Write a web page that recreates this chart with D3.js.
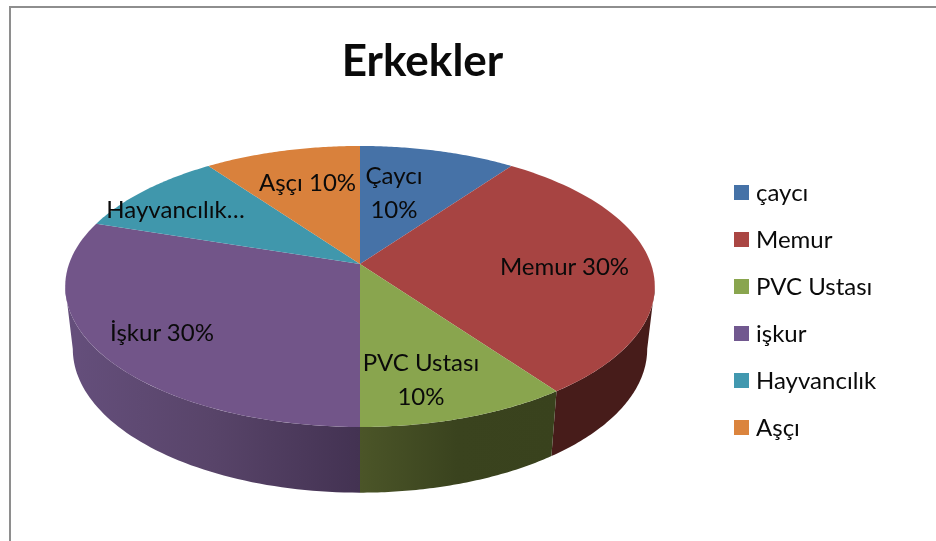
<!DOCTYPE html>
<html lang="tr">
<head>
<meta charset="utf-8">
<title>Erkekler</title>
<script src="https://cdn.jsdelivr.net/npm/d3@7/dist/d3.min.js"></script>
<style>
html,body{margin:0;padding:0;background:#fff;overflow:hidden}
svg{display:block;filter:blur(0.4px)}
text{font-family:Lato,"Open Sans",sans-serif;fill:#0a0a0a}
</style>
</head>
<body>
<svg id="chart" width="936" height="541"></svg>
<script>
const titleText = "Erkekler";
const categories = ["çaycı", "Memur", "PVC Ustası", "işkur", "Hayvancılık", "Aşçı"];
const values = [10, 30, 10, 30, 10, 10];
const topColors = ["#4672a7", "#a74442", "#89a54e", "#725589", "#4097ac", "#d9813c"];
const legendColors = ["#4572a7", "#aa4643", "#89a54e", "#71588f", "#4198af", "#db843d"];
const dataLabels = [["Çaycı", "10%"], ["Memur 30%"], ["PVC Ustası", "10%"], ["İşkur 30%"], ["Hayvancılık…"], ["Aşçı 10%"]];

// layout (not data)
const labelAnchors = [[394, 184], [564.5, 274.5], [421, 371], [162, 341], [175.5, 218], [307.5, 191]];
const lineStep = 33.5;
const topDisk = {cx: 360, cy: 264, a: 291, b: 136.9, k: 0.16};
const baseDisk = {cx: 360, cy: 326, a: 283.5, b: 140, k: 0.16};

const svg = d3.select("#chart");
const defs = svg.append("defs");

const project = (disk, t) => {
  const w = 1 + disk.k * Math.cos(t);
  return [disk.cx + disk.a * Math.sin(t) / w, disk.cy - disk.b * Math.cos(t) / w];
};
const sampleArc = (disk, t0, t1) => d3.range(0, 61).map(i => project(disk, t0 + (t1 - t0) * i / 60));
const path = d3.line();

const arcs = d3.pie().sort(null).value(d => d)(values);

// frame
const frame = svg.append("g").attr("fill", "none").attr("stroke", "#8e8e8e").attr("stroke-width", 2);
frame.append("path").attr("d", path([[10, 541], [10, 7], [936, 7]]));

svg.append("text").text(titleText)
  .attr("x", 422.5).attr("y", 76).attr("text-anchor", "middle")
  .attr("font-size", 44).attr("font-weight", 700);

// walls: only the front of the disk is visible
const visible = [Math.acos(-topDisk.k), 2 * Math.PI - Math.acos(-topDisk.k)];
const wallStops = {
  1: [["#471c1a", 0], ["#471c1a", 1]],
  2: [["#4b5528", 0], ["#3a431e", 0.5], ["#39421d", 1]],
  3: [["#654f7c", 0], ["#584469", 0.5], ["#433252", 1]]
};
const wallX = {1: [552, 655], 2: [360, 555], 3: [66, 360]};
const wallGroup = svg.append("g");
arcs.forEach((d, i) => {
  const t0 = Math.max(d.startAngle, visible[0]);
  const t1 = Math.min(d.endAngle, visible[1]);
  if (t1 <= t0) return;
  const id = "wall" + i;
  const g = defs.append("linearGradient").attr("id", id)
    .attr("gradientUnits", "userSpaceOnUse")
    .attr("x1", wallX[i][0]).attr("x2", wallX[i][1]).attr("y1", 0).attr("y2", 0);
  wallStops[i].forEach(s => g.append("stop").attr("offset", s[1]).attr("stop-color", s[0]));
  const pts = sampleArc(topDisk, t0, t1).concat(sampleArc(baseDisk, t1, t0));
  wallGroup.append("path").attr("d", path(pts) + "Z").attr("fill", `url(#${id})`);
});

// top face
const topGroup = svg.append("g");
arcs.forEach((d, i) => {
  const pts = [[topDisk.cx, topDisk.cy]].concat(sampleArc(topDisk, d.startAngle, d.endAngle));
  topGroup.append("path").attr("d", path(pts) + "Z").attr("fill", topColors[i]);
});

// data labels
const labelGroup = svg.append("g").attr("font-size", 24).attr("text-anchor", "middle");
dataLabels.forEach((lines, i) => {
  lines.forEach((line, j) => {
    labelGroup.append("text").text(line)
      .attr("x", labelAnchors[i][0]).attr("y", labelAnchors[i][1] + j * lineStep);
  });
});

// legend
const legendY = d3.scalePoint().domain(categories).range([185, 420]);
const legend = svg.append("g").selectAll("g").data(categories).join("g")
  .attr("transform", d => `translate(734,${legendY(d)})`);
legend.append("rect").attr("width", 15).attr("height", 15).attr("fill", (d, i) => legendColors[i]);
legend.append("text").text(d => d).attr("x", 22).attr("y", 16).attr("font-size", 24);
</script>
</body>
</html>
